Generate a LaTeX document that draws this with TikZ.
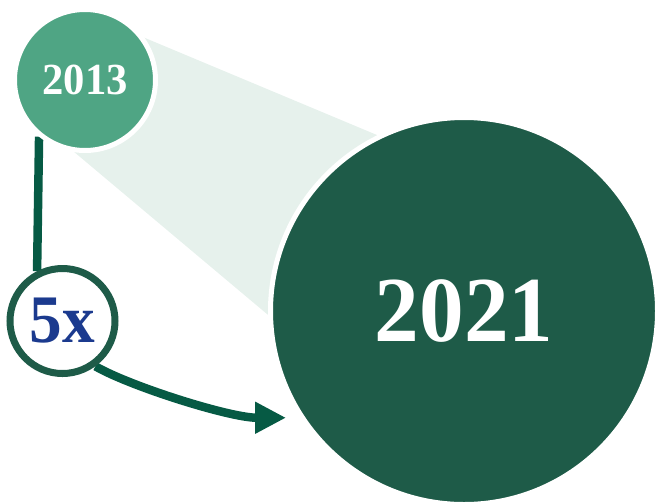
\documentclass[tikz,border=0pt]{standalone}
\usepackage{fontspec}
\usepackage{graphicx}
\usetikzlibrary{arrows.meta,backgrounds}

\newfontfamily\yearface{Liberation Serif}

\definecolor{paleband}{HTML}{E6F1EC}
\definecolor{smallgreen}{HTML}{4FA584}
\definecolor{biggreen}{HTML}{1E5B48}
\definecolor{arrowgreen}{HTML}{065A44}
\definecolor{fivexblue}{HTML}{1B3A8E}

\newcommand{\yearfont}[2]{\scalebox{0.96}[1]{\yearface\bfseries\fontsize{#1}{#1}\selectfont #2}}

\begin{document}
\begin{tikzpicture}[x=1pt,y=1pt,
  year node/.style={circle,draw=white,line width=5pt,inner sep=0pt,text=white},
  ratio node/.style={circle,draw=biggreen,fill=white,line width=7pt,inner sep=0pt,text=fivexblue},
  growth/.style={draw=arrowgreen,line width=8.5pt}]
   \useasboundingbox (0,0) rectangle (655,-501);
   \node[year node,fill=smallgreen,minimum size=141pt] (y2013) at (85,-80)     {\yearfont{44.4}{2013}};
   \node[year node,fill=biggreen,minimum size=387pt]   (y2021) at (464,-311)   {\yearfont{93}{2021}};
   \node[ratio node,minimum size=105pt]                (x5)    at (62.5,-321)  {\yearfont{68}{5x}};
   \begin{scope}[on background layer]
    \fill[paleband] (120,-27.5) -- (420,-153) -- (286,-330) -- (48,-130) -- cycle;
    \path[growth] (y2013.-129) -- (x5.117);
    \path[growth,-{Triangle[length=31pt,width=30pt]},shorten >=13.6pt]
    (x5.-54) to [out=-30,in=180,out distance=40pt,in distance=70pt] (y2021.213);
   \end{scope}
\end{tikzpicture}
\end{document}
